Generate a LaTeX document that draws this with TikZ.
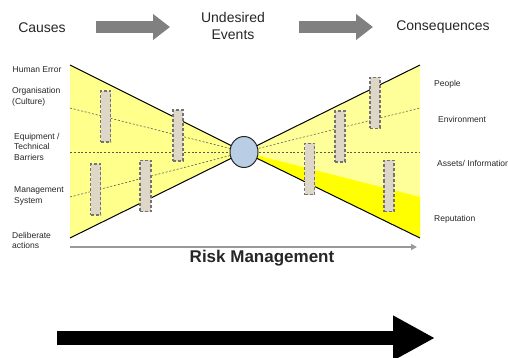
\documentclass[tikz,border=0pt]{standalone}
\usepackage{fontspec}
\setmainfont{Liberation Sans}
\usetikzlibrary{arrows.meta,shapes.geometric}
\definecolor{lyel}{HTML}{FFFF8C}
\definecolor{ryel}{HTML}{FFFF99}
\definecolor{byel}{HTML}{FFFF00}
\definecolor{circfill}{HTML}{B9CDE5}
\definecolor{barfill}{HTML}{DED6C6}
\definecolor{bararrow}{HTML}{808080}
\tikzset{
  lbl/.style={font=\fontsize{8.5}{10.5}\selectfont, align=left, anchor=west, inner sep=0pt, text=black!85},
  toplbl/.style={font=\fontsize{14}{17}\selectfont, align=center, inner sep=0pt, text=black!85},
  barrier/.style={draw=black!55, dash pattern=on 3pt off 2pt, line width=1.1pt, fill=barfill, minimum width=10pt, minimum height=51pt, inner sep=0pt},
  dline/.style={draw=black!65, dash pattern=on 2pt off 1.8pt, line width=0.6pt},
  edgeline/.style={draw=black, line width=1pt},
  blockarrow/.style={draw=bararrow, line width=12pt, -{Triangle[width=25pt,length=17pt]}},
}
\begin{document}
\begin{tikzpicture}[x=1pt,y=-1pt]
\useasboundingbox (0,0) rectangle (508,358);
% coordinates
\coordinate (c) at (244,152);
\coordinate (ltl) at (70,65);
\coordinate (lbl) at (70,238);
\coordinate (rtr) at (420,65);
\coordinate (rbr) at (420,238);
\coordinate (rmid) at (420,197);
\coordinate (ld1) at (70,108);
\coordinate (ld2) at (70,152);
\coordinate (ld3) at (70,197);
\coordinate (rd1) at (420,108);
\coordinate (rd2) at (420,152);
% fills
\fill[lyel] (ltl) -- (c) -- (lbl) -- cycle;
\fill[ryel] (rtr) -- (c) -- (rbr) -- cycle;
\fill[byel] (c) -- (rmid) -- (rbr) -- cycle;
% dashed lines
\draw[dline] (ld1) -- (c);
\draw[dline] (ld2) -- (c);
\draw[dline] (ld3) -- (c);
\draw[dline] (c) -- (rd1);
\draw[dline] (c) -- (rd2);
% edges
\draw[edgeline] (ltl) -- (c) -- (lbl);
\draw[edgeline] (rtr) -- (c) -- (rbr);
% barriers
\node[barrier] (b1) at (105.5,116.5) {};
\node[barrier] (b2) at (178,135.5) {};
\node[barrier] (b3) at (95.5,189.5) {};
\node[barrier, minimum width=11pt] (b4) at (145.5,186) {};
\node[barrier] (b5) at (309.5,169) {};
\node[barrier] (b6) at (340,136.5) {};
\node[barrier] (b7) at (375,103) {};
\node[barrier] (b8) at (389,186) {};
% circle
\node[ellipse, draw=black!85, line width=1pt, fill=circfill, minimum width=28pt, minimum height=31pt, inner sep=0pt] (ue) at (c) {};
% left labels
\node[lbl] (l1) at (12.5,70) {Human Error};
\node[lbl] (l2) at (12,97) {Organisation\\(Culture)};
\node[lbl] (l3) at (14,146.5) {Equipment /\\Technical\\Barriers};
\node[lbl] (l4) at (14,196) {Management\\System};
\node[lbl] (l5) at (12,240.5) {Deliberate\\actions};
% right labels
\node[lbl] (r1) at (434,84) {People};
\node[lbl] (r2) at (438,119) {Environment};
\node[lbl] (r3) at (437,163) {Assets/ Information};
\node[lbl] (r4) at (434,219) {Reputation};
% top
\node[toplbl] (causes) at (42,28) {Causes};
\node[toplbl] (undes) at (233,25.5) {Undesired\\Events};
\node[toplbl] (conseq) at (443,27.5) {Consequences};
\coordinate (a1s) at (96,27);
\coordinate (a1e) at (170,27);
\coordinate (a2s) at (299,27);
\coordinate (a2e) at (373,27);
\draw[blockarrow] (a1s) -- (a1e);
\draw[blockarrow] (a2s) -- (a2e);
% risk management
\coordinate (rms) at (70,247);
\coordinate (rme) at (417,247);
\draw[draw=black!40, line width=1.5pt, -{Triangle[width=6pt,length=6pt]}] (rms) -- (rme);
\node[font=\fontsize{17}{20}\selectfont\bfseries, inner sep=0pt, text=black!85] (rm) at (262,258.5) {Risk Management};
% big black arrow
\coordinate (bas) at (57,338);
\coordinate (bae) at (435,338);
\draw[black, line width=14pt, -{Triangle[width=42pt,length=42pt]}] (bas) -- (bae);
\end{tikzpicture}
\end{document}
